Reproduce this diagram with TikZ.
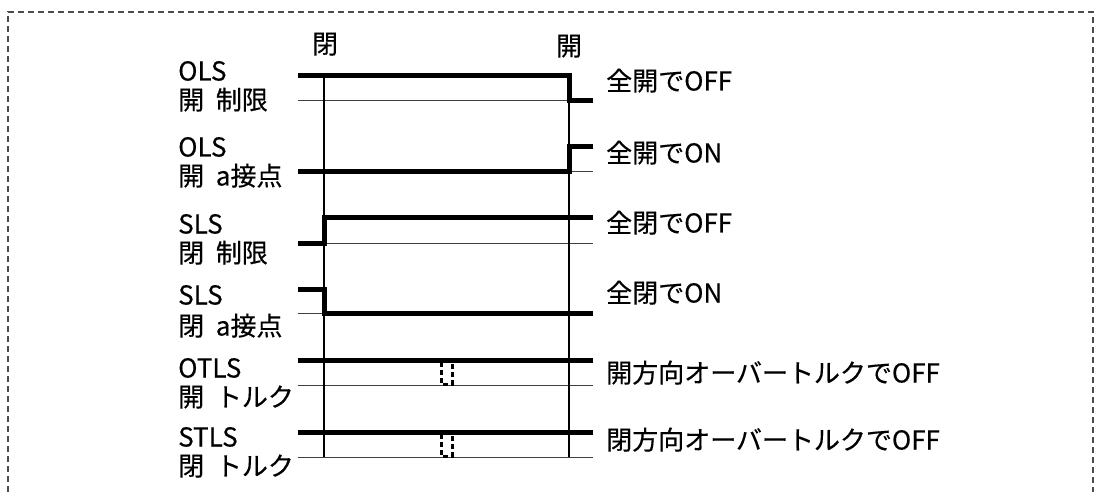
\documentclass[tikz,border=0pt]{standalone}
\usepackage{fontspec}
\setmainfont{Noto Sans CJK JP}[FakeBold=0.4]
\begin{document}
\begin{tikzpicture}[x=1pt,y=-1pt,
  sig/.style={line width=5pt, line join=miter},
  baseline/.style={line width=1pt, draw=black!75},
  marker/.style={line width=1.3pt},
  lbl/.style={anchor=base west, inner sep=0pt, font=\fontsize{26}{29}\selectfont},
  toplbl/.style={anchor=base, inner sep=0pt, font=\fontsize{26}{29}\selectfont},
  frame/.style={draw=black!70, line width=1.2pt, dash pattern=on 6pt off 4pt},
  ovt/.style={line width=3pt, dash pattern=on 5pt off 3pt}]
\useasboundingbox (0,0) rectangle (1096,492);
% frame
\draw[frame] (8,492) -- (8,12) -- (1093,12) -- (1093,492);
% top labels
\node[toplbl] (closed) at (325,53.5) {閉};
\node[toplbl] (open) at (569,55.5) {開};
% baselines
\foreach \y in {101,172,243,313,385,457}
  \draw[baseline] (298,\y) -- (593,\y);
% markers
\coordinate (c1) at (324,76);
\coordinate (c2) at (324,457);
\coordinate (o1) at (569,76);
\coordinate (o2) at (569,457);
\draw[marker] (c1) -- (c2);
\draw[marker] (o1) -- (o2);
% signals
\draw[sig] (298,76) -- (569,76) -- (569,101) -- (593,101);
\draw[sig] (298,172) -- (569,172) -- (569,147) -- (593,147);
\draw[sig] (298,243) -- (324,243) -- (324,218) -- (593,218);
\draw[sig] (298,289) -- (324,289) -- (324,313) -- (593,313);
\draw[sig] (298,360) -- (593,360);
\draw[sig] (298,432) -- (593,432);
% overtorque markers
\draw[ovt] (441,362) -- (441,384) -- (452,384) -- (452,362);
\draw[ovt] (441,434) -- (441,456) -- (452,456) -- (452,434);
% left labels
\node[lbl] (l1a) at (178,80.5) {OLS};
\node[lbl] (l1b) at (178,109.5) {開\hspace{0.45em}制限};
\node[lbl] (l2a) at (178,156.5) {OLS};
\node[lbl] (l2b) at (178,185.5) {開\hspace{0.45em}a接点};
\node[lbl] (l3a) at (178,233.5) {SLS};
\node[lbl] (l3b) at (178,262.5) {閉\hspace{0.45em}制限};
\node[lbl] (l4a) at (178,304.5) {SLS};
\node[lbl] (l4b) at (178,335.5) {閉\hspace{0.45em}a接点};
\node[lbl] (l5a) at (178,377.5) {OTLS};
\node[lbl] (l5b) at (178,406.5) {開\hspace{0.45em}トルク};
\node[lbl] (l6a) at (178,446.5) {STLS};
\node[lbl] (l6b) at (178,475.5) {閉\hspace{0.45em}トルク};
% right labels
\node[lbl] (r1) at (606,90.5) {全開でOFF};
\node[lbl] (r2) at (606,162.5) {全開でON};
\node[lbl] (r3) at (606,232.5) {全閉でOFF};
\node[lbl] (r4) at (606,302.5) {全閉でON};
\node[lbl] (r5) at (606,382.5) {開方向オーバートルクでOFF};
\node[lbl] (r6) at (606,449.5) {閉方向オーバートルクでOFF};
\end{tikzpicture}
\end{document}
